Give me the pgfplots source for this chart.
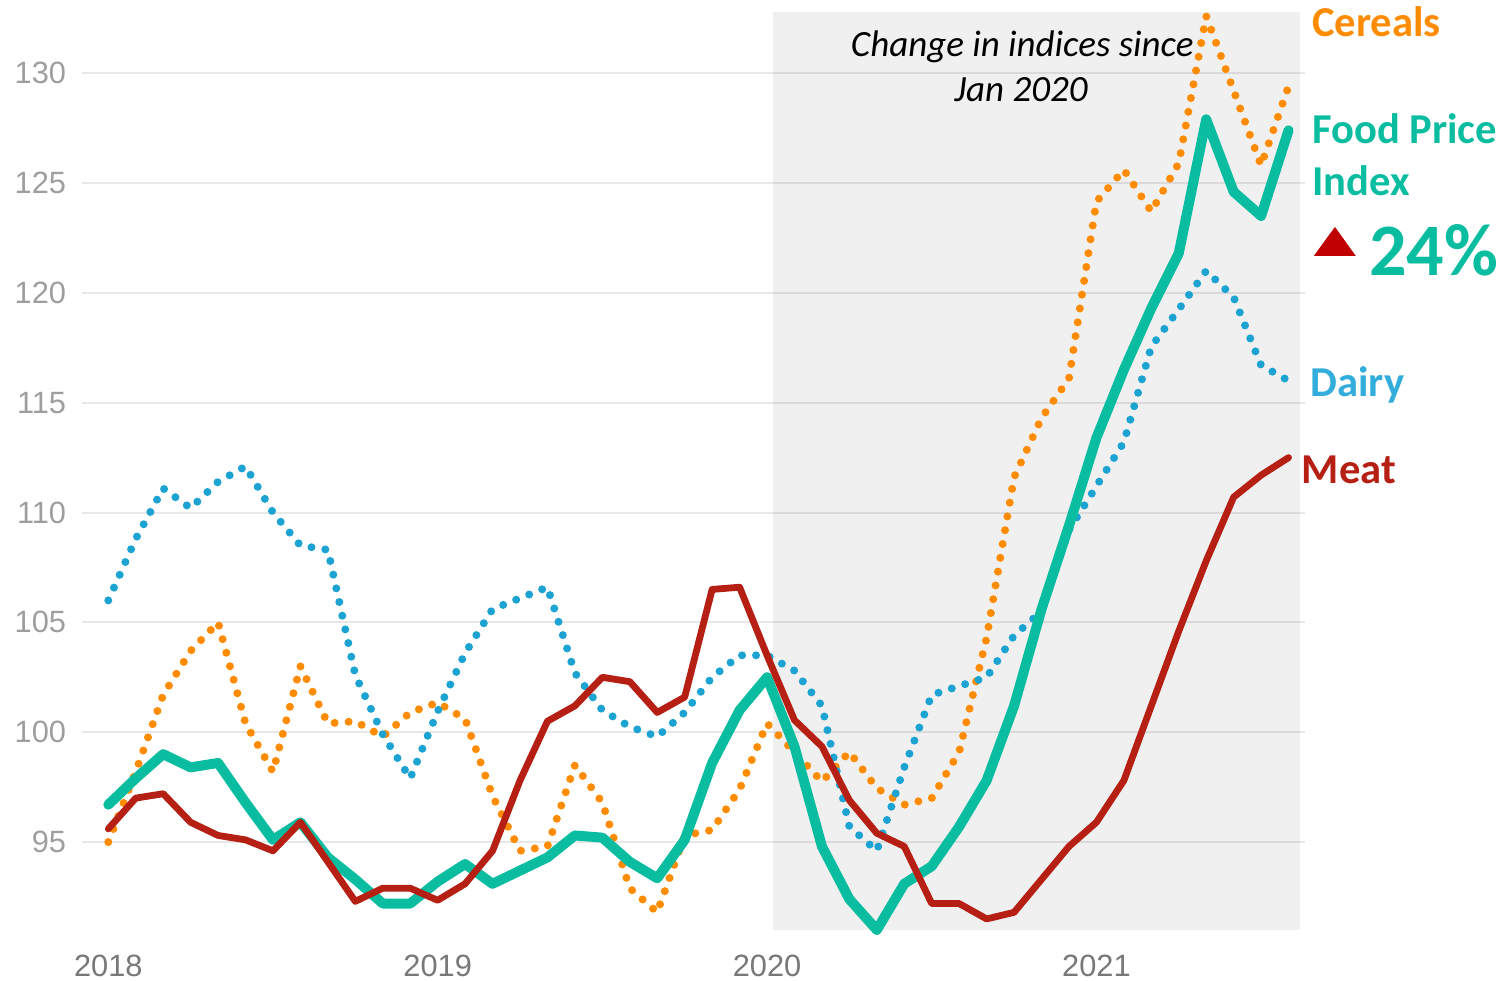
\documentclass[border=0pt]{standalone}
\usepackage{fontspec}
\setmainfont{Liberation Sans}
\newfontfamily\calibri{Carlito}
\usepackage{pgfplots}
\pgfplotsset{compat=1.18}

\definecolor{fpi}{RGB}{10,189,160}
\definecolor{meat}{RGB}{182,32,20}
\definecolor{dairy}{RGB}{28,163,210}
\definecolor{dairytxt}{RGB}{51,173,219}
\definecolor{cereal}{RGB}{255,140,0}
\definecolor{gridgray}{RGB}{232,232,232}
\definecolor{ylab}{RGB}{158,158,158}
\definecolor{xlab}{RGB}{120,120,120}
\definecolor{arrowred}{RGB}{192,0,0}

% month index (0 = Jan 2018), FAO indices
\pgfplotstableread{
m  fpi    meat   dairy  cereals
0  96.7   95.6   106.0  95.0
1  97.9   97.0   108.8  98.2
2  99.0   97.2   111.1  101.7
3  98.4   95.9   110.2  103.7
4  98.6   95.3   111.4  105.0
5  96.8   95.1   112.1  100.4
6  95.1   94.6   110.0  98.2
7  95.9   95.9   108.5  103.0
8  94.3   94.1   108.3  100.4
9  93.3   92.3   102.6  100.5
10 92.2   92.9   99.9   99.8
11 92.2   92.9   97.9   100.9
12 93.2   92.35  100.95 101.35
13 94.0   93.1   103.6  100.6
14 93.1   94.6   105.6  97.1
15 93.7   97.8   106.1  94.6
16 94.3   100.5  106.6  94.8
17 95.3   101.2  102.7  98.5
18 95.2   102.5  101.0  96.8
19 94.1   102.3  100.25 92.9
20 93.35  100.9  99.8   91.8
21 95.1   101.6  100.9  95.3
22 98.6   106.5  102.5  95.55
23 101.0  106.6  103.5  97.4
24 102.5  103.5  103.5  100.4
25 99.35  100.55 102.8  99.1
26 94.8   99.35  101.2  97.75
27 92.4   96.9   95.7   99.1
28 91.0   95.4   94.6   97.45
29 93.1   94.8   98.4   96.7
30 93.9   92.2   101.7  97.0
31 95.7   92.2   102.1  99.1
32 97.8   91.5   102.5  104.3
33 101.2  91.8   104.4  111.6
34 105.6  93.3   105.5  114.3
35 109.4  94.8   109.2  116.1
36 113.4  95.9   111.2  124.15
37 116.5  97.8   113.2  125.6
38 119.3  101.2  117.55 123.7
39 121.8  104.6  119.25 125.9
40 127.9  107.8  121.0  132.6
41 124.6  110.7  119.8  129.2
42 123.5  111.7  116.7  125.8
43 127.4  112.5  116.0  129.4
}\foodtable

\begin{document}
\begin{tikzpicture}
\begin{axis}[
    x=13.725pt, y=10.985pt,
    xmin=-0.958, xmax=43.6,
    ymin=90.5, ymax=133.3,
    clip=false,
    axis line style={draw=none},
    tick style={draw=none},
    major tick length=0pt,
    xtick pos=bottom, ytick pos=left,
    xtick={0,12,24,36},
    xticklabels={2018,2019,2020,2021},
    ytick={95,100,...,130},
    ymajorgrids,
    major grid style={draw=gridgray, line width=1pt},
    /pgf/number format/assume math mode=true,
    tick label style={font=\fontsize{15.4}{18}\selectfont},
    yticklabel style={color=ylab, xshift=-4.4pt},
    xticklabel style={color=xlab, yshift=-3.4pt},
]
    % shaded period since Jan 2020
    \fill[black, fill opacity=0.059] (axis cs:24.2,91.0) rectangle (axis cs:43.4,132.78);

    \addplot[cereal, line width=4pt, line cap=round, dash pattern=on 0pt off 7pt]
        table[x=m, y=cereals] {\foodtable};
    \addplot[dairy, line width=4pt, line cap=round, dash pattern=on 0pt off 7pt]
        table[x=m, y=dairy] {\foodtable};
    \addplot[fpi, line width=5pt, line join=round, line cap=round]
        table[x=m, y=fpi] {\foodtable};
    \addplot[meat, line width=3.4pt, line join=round, line cap=round]
        table[x=m, y=meat] {\foodtable};

    % annotation
    \node[anchor=base, inner sep=0, font=\calibri\itshape\fontsize{18.5}{22}\selectfont]
        at (axis cs:33.3,130.74) {Change in indices since};
    \node[anchor=base, inner sep=0, font=\calibri\itshape\fontsize{18.5}{22}\selectfont]
        at (axis cs:33.25,128.69) {Jan 2020};

    % series labels
    \node[anchor=base west, inner sep=0, text=cereal, font=\calibri\bfseries\fontsize{21.3}{26}\selectfont]
        at (axis cs:43.85,131.69) {Cereals};
    \node[anchor=base west, inner sep=0, text=fpi, font=\calibri\bfseries\fontsize{21.3}{26}\selectfont]
        at (axis cs:43.85,126.82) {Food Price};
    \node[anchor=base west, inner sep=0, text=fpi, font=\calibri\bfseries\fontsize{21.3}{26}\selectfont]
        at (axis cs:43.85,124.45) {Index};
    \fill[arrowred] (axis cs:43.92,121.68) -- (axis cs:45.45,121.68) -- (axis cs:44.69,123.0) -- cycle;
    \node[anchor=base west, inner sep=0, text=fpi, font=\calibri\bfseries\fontsize{37}{44}\selectfont]
        at (axis cs:45.92,120.77) {24\%};
    \node[anchor=base west, inner sep=0, text=dairytxt, font=\calibri\bfseries\fontsize{21.3}{26}\selectfont]
        at (axis cs:43.78,115.26) {Dairy};
    \node[anchor=base west, inner sep=0, text=meat, font=\calibri\bfseries\fontsize{21.3}{26}\selectfont]
        at (axis cs:43.47,111.34) {Meat};

    \coordinate (bbtl) at (axis cs:-3.945,133.33);
    \coordinate (bbbr) at (axis cs:50.74,88.68);
\end{axis}
\pgfresetboundingbox
\path[use as bounding box] (bbtl) rectangle (bbbr);
\end{tikzpicture}
\end{document}
